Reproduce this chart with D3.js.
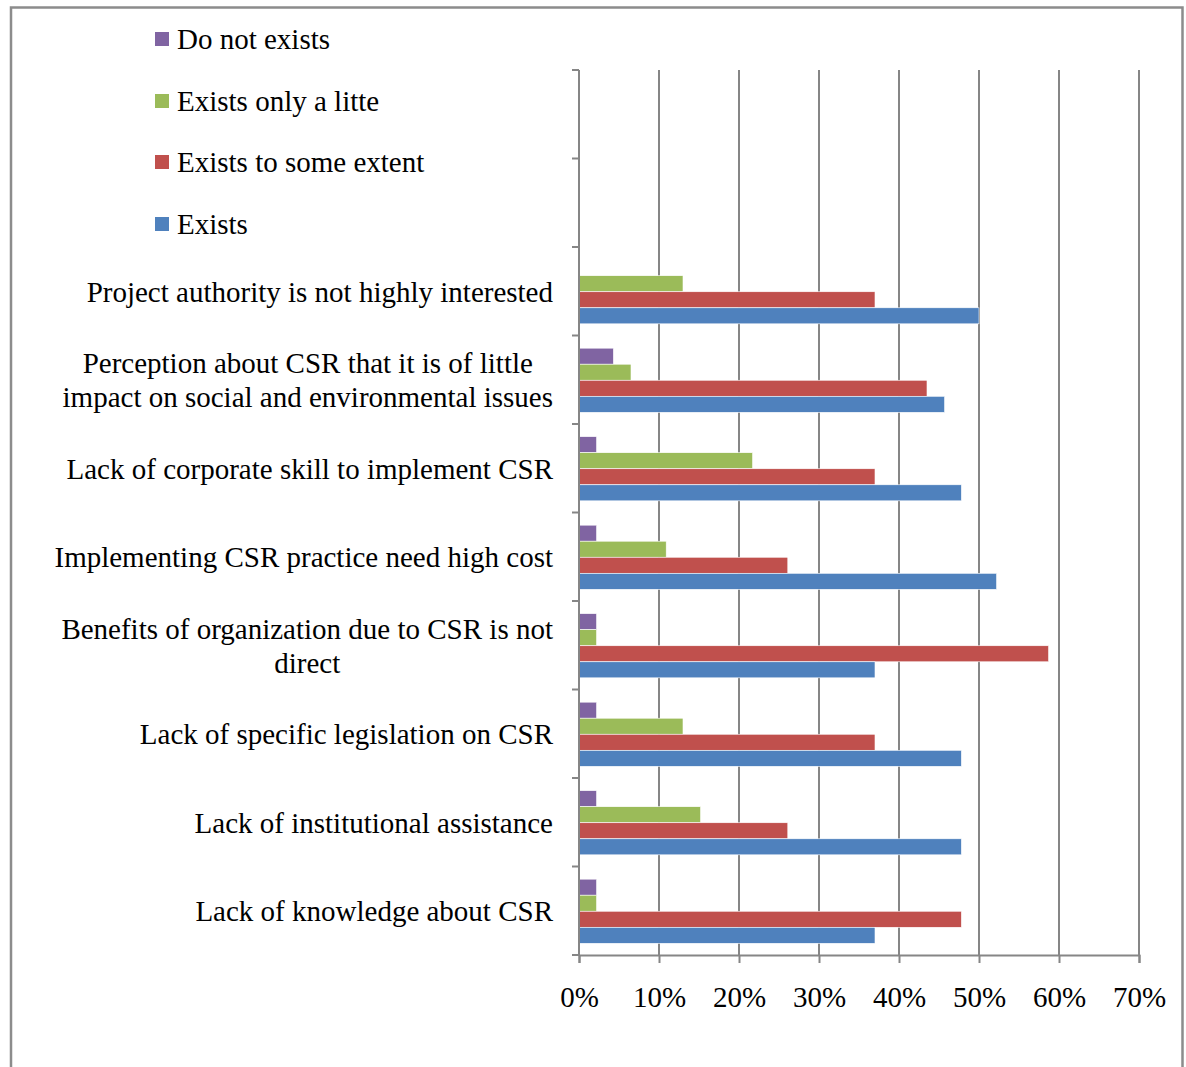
<!DOCTYPE html>
<html>
<head>
<meta charset="utf-8">
<script src="https://cdn.jsdelivr.net/npm/d3@7"></script>
<style>
  html, body { margin: 0; padding: 0; background: #fff; }
  svg { display: block; }
  text { font-family: "Liberation Serif", "Times New Roman", serif; fill: #000; }
</style>
</head>
<body>
<svg id="chart" width="1186" height="1067"></svg>
<script>
// Barriers to CSR, share of respondents per answer (top to bottom)
const categories = [
  ["Project authority is not highly interested"],
  ["Perception about CSR that it is of little", "impact on social and environmental issues"],
  ["Lack of corporate skill to implement CSR"],
  ["Implementing CSR practice need high cost"],
  ["Benefits of organization due to CSR is not", "direct"],
  ["Lack of specific legislation on CSR"],
  ["Lack of institutional assistance"],
  ["Lack of knowledge about CSR"]
];
const seriesNames = ["Do not exists", "Exists only a litte", "Exists to some extent", "Exists"];
const doNotExists      = [0,    4.3,  2.2,  2.2,  2.2,  2.2,  2.2,  2.2];
const existsLittle     = [13.0, 6.5,  21.7, 10.9, 2.2,  13.0, 15.2, 2.2];
const existsSomeExtent = [37.0, 43.5, 37.0, 26.1, 58.7, 37.0, 26.1, 47.8];
const exists           = [50.0, 45.7, 47.8, 52.2, 37.0, 47.8, 47.8, 37.0];
const xTicks = [0, 10, 20, 30, 40, 50, 60, 70];
const colors = ["#8064A2", "#9BBB59", "#C0504D", "#4F81BD"];

const seriesValues = [doNotExists, existsLittle, existsSomeExtent, exists];
const svg = d3.select("#chart");
const FS = 29;

// outer frame
svg.append("path")
  .attr("d", "M11,1067 V7.5 H1182.5 V1067")
  .attr("fill", "none").attr("stroke", "#8c8c8c").attr("stroke-width", 2.5);

const plotL = 579, plotR = 1139, plotT = 70, plotB = 955;
const x = d3.scaleLinear().domain([0, 70]).range([plotL, plotR]);

// two empty slots above the categories hold the legend
const slots = ["_a", "_b"].concat(categories.map((c, i) => "c" + i));
const y = d3.scaleBand().domain(slots).range([plotT, plotB]).padding(0);
const bw = y.bandwidth();
const gap = bw * 0.275;
const ySeries = d3.scaleBand().domain(d3.range(4)).range([gap / 2 + 0.5, bw - gap / 2 + 0.5]).padding(0);

// vertical gridlines
svg.append("g").selectAll("line").data(xTicks.slice(1)).join("line")
  .attr("x1", d => x(d)).attr("x2", d => x(d))
  .attr("y1", plotT).attr("y2", plotB)
  .attr("stroke", "#868686").attr("stroke-width", 2);

// bars
const rows = categories.map((c, i) => ({ key: "c" + i, vals: seriesValues.map(s => s[i]) }));
const groups = svg.append("g").selectAll("g").data(rows).join("g")
  .attr("transform", d => `translate(0,${y(d.key)})`);
groups.selectAll("rect").data(d => d.vals.map((v, k) => ({ v, k }))).join("rect")
  .attr("x", x(0))
  .attr("y", d => ySeries(d.k))
  .attr("width", d => x(d.v) - x(0))
  .attr("height", ySeries.bandwidth())
  .attr("fill", d => colors[d.k])
  .attr("stroke", "#ffffff").attr("stroke-width", 0.6)
  .style("display", d => d.v > 0 ? null : "none");

// y axis with ticks between slots
const yAxis = svg.append("g").attr("stroke", "#868686").attr("stroke-width", 2);
yAxis.append("line").attr("x1", plotL).attr("x2", plotL).attr("y1", plotT).attr("y2", plotB + 1);
yAxis.selectAll(".yt").data(slots.map(s => y(s)).concat([plotB])).join("line")
  .attr("x1", plotL - 7).attr("x2", plotL).attr("y1", d => d).attr("y2", d => d);

// x axis
const xAxis = d3.axisBottom(x).tickValues(xTicks).tickFormat(d => d + "%").tickSize(8).tickPadding(23);
const gx = svg.append("g").attr("transform", `translate(0,${plotB})`).call(xAxis);
gx.select(".domain").attr("stroke", "#868686").attr("stroke-width", 2);
gx.selectAll(".tick line").attr("stroke", "#868686").attr("stroke-width", 2);
gx.selectAll(".tick text").attr("font-size", FS).attr("font-family", "Liberation Serif").attr("fill", "#000");

// category labels: right-aligned block, lines centred within it
const labelRight = 553;
rows.forEach((r, i) => {
  const lines = categories[i];
  const cy = y(r.key) + bw / 2 + 1;
  const lh = 34;
  const g = svg.append("g");
  const texts = lines.map((ln, j) => g.append("text")
    .attr("font-size", FS)
    .attr("y", cy + (j - (lines.length - 1) / 2) * lh)
    .attr("dy", "0.33em")
    .text(ln));
  const w = d3.max(texts, t => t.node().getComputedTextLength());
  texts.forEach(t => t.attr("text-anchor", "middle").attr("x", labelRight - w / 2));
});

// legend
const legendY = [39, 101, 162, 224];
const lg = svg.append("g").selectAll("g").data(seriesNames).join("g")
  .attr("transform", (d, i) => `translate(155,${legendY[i]})`);
lg.append("rect").attr("x", 0).attr("y", -7).attr("width", 14).attr("height", 14)
  .attr("fill", (d, i) => colors[i]);
lg.append("text").attr("x", 22).attr("dy", "0.33em").attr("font-size", FS).text(d => d);
</script>
</body>
</html>
